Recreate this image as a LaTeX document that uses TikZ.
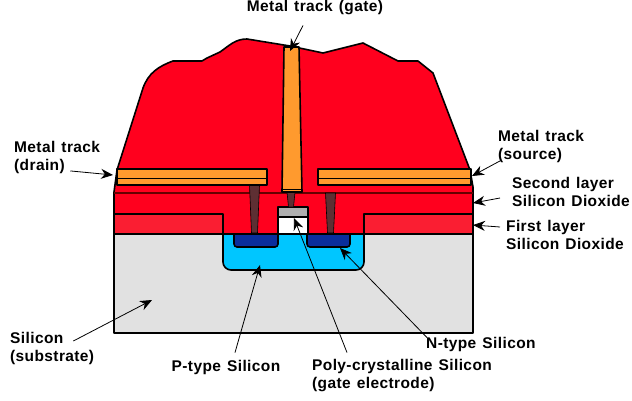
\documentclass[tikz,border=0pt]{standalone}
\usepackage{fontspec}
\setmainfont[LetterSpace=2.5,WordSpace=1.3]{Liberation Sans}
\usetikzlibrary{arrows.meta}
\definecolor{oxide}{HTML}{FF001E}
\definecolor{oxidelow}{HTML}{FA1E32}
\definecolor{metal}{HTML}{FF9A2E}
\definecolor{plug}{HTML}{5E2F33}
\definecolor{substrate}{HTML}{E1E1E1}
\definecolor{pwell}{HTML}{00C6FF}
\definecolor{ndiff}{HTML}{0A2E9C}
\definecolor{poly}{HTML}{AFAFAF}
\tikzset{
	part/.style={draw=black,line width=1.6pt,line join=round},
	label/.style={font=\fontsize{15.5}{18}\selectfont\bfseries,align=left,inner sep=0pt,text=black},
	ptr/.style={-{Stealth[length=12pt,width=10pt]},line width=.8pt}
}
\begin{document}
\begin{tikzpicture}[x=1pt,y=-1pt]
	\useasboundingbox (0,0) rectangle (632,401);
	\fill[white] (0,0) rectangle (632,401);
	% silicon and oxide
	\draw[part,fill=substrate] (114,234) rectangle (473,333);
	\draw[part,fill=oxide] (114,234)--(114,192)--(117,170)--(143,88)
		to[out=70,in=200] (173,61)
		to[out=0,in=180] (202,61)--(207,58)--(220,52)
		to[out=35,in=180] (247,39)
		--(290,46)--(323,53)--(363,43)--(398,61)--(418,61)--(433,73)
		--(470,170)--(473,187)--(473,234)--cycle;
	\draw[part,fill=oxidelow] (114,234)--(114,214)--(223,214)--(223,234)--cycle;
	\draw[part,fill=oxidelow] (473,234)--(473,214)--(364,214)--(364,234)--cycle;
	\draw[line width=1.2pt,black!60!red] (114,193)--(473,193);
	% wells
	\draw[part,fill=pwell,rounded corners=8pt] (223,234)--(223,270)--(364,270)--(364,234);
	\draw[part,fill=ndiff,rounded corners=3pt] (234,234)--(234,247)--(278,247)--(278,234);
	\draw[part,fill=ndiff,rounded corners=3pt] (307,234)--(307,247)--(350,247)--(350,234);
	\draw[part] (114,234)--(473,234);
	% gate stack
	\draw[part,fill=white] (278,217) rectangle (308,234);
	\draw[part,fill=poly] (278,207) rectangle (308,217);
	% plugs
	\foreach \x/\ya/\w in {254.5/185/5, 330.5/193/5}
		\draw[black,line width=.6pt,fill=plug] (\x-\w,\ya)--(\x+\w,\ya)--(\x+3,233)--(\x-3,233)--cycle;
	\draw[black,line width=.6pt,fill=plug] (287,192)--(295,192)--(293.5,207)--(288.5,207)--cycle;
	% metal tracks
	\foreach \xa/\xb in {117/267, 318/471} {
		\draw[part,fill=metal] (\xa,169) rectangle (\xb,185);
		\draw[part] (\xa,178.5)--(\xb,178.5);
	}
	\draw[part,fill=metal] (284,47)--(299,47)--(302,192)--(282,192)--cycle;
	\draw[line width=1pt] (282,189.5)--(302,189.5);
	% labels
	\node[label,anchor=center] (lblgate) at (315,8) {Metal track (gate)};
	\node[label,anchor=west] (lbldrain) at (14,157.5) {Metal track\\(drain)};
	\node[label,anchor=west] (lblsource) at (498,146.5) {Metal track\\(source)};
	\node[label,anchor=west] (lblsecond) at (512,191.5) {Second layer\\Silicon Dioxide};
	\node[label,anchor=west] (lblfirst) at (506,234.5) {First layer\\Silicon Dioxide};
	\node[label,anchor=west] (lblsubstrate) at (10,348) {Silicon\\(substrate)};
	\node[label,anchor=center] (lblptype) at (226,367) {P-type Silicon};
	\node[label,anchor=west] (lblntype) at (426,344) {N-type Silicon};
	\node[label,anchor=west] (lblpoly) at (312,376) {Poly-crystalline\ Silicon\\(gate electrode)};
	% arrows
	\path
		(290,51) coordinate (tipgate)
		(113,175) coordinate (tipdrain)
		(472,176) coordinate (tipsource)
		(473,203) coordinate (tipsecond)
		(473,225) coordinate (tipfirst)
		(152,300) coordinate (tipsubstrate)
		(260,265) coordinate (tipptype)
		(340,248) coordinate (tipntype)
		(294,218) coordinate (tippoly);
	\draw[ptr] (lblgate.south)++(-12,10)--(tipgate);
	\draw[ptr] (lbldrain.south east)++(-30,-3)--(tipdrain);
	\draw[ptr] (lblsource.south west)++(2,-2)--(tipsource);
	\draw[ptr] (lblsecond.west)++(-12,6.5)--(tipsecond);
	\draw[ptr] (lblfirst.west)++(-6,-7.5)--(tipfirst);
	\draw[ptr] (lblsubstrate.east)++(-21,-7)--(tipsubstrate);
	\draw[ptr] (lblptype.north)++(9,-7)--(tipptype);
	\draw[ptr] (lblntype.north west)++(1,1)--(tipntype);
	\draw[ptr] (lblpoly.north west)++(35,-7)--(tippoly);
\end{tikzpicture}
\end{document}
